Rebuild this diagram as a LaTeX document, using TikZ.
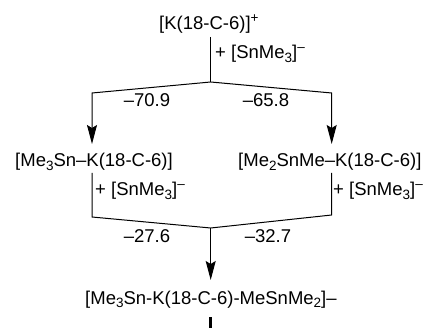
\documentclass[tikz,border=0pt]{standalone}
\usepackage{fontspec}
\setmainfont{Liberation Sans}
\usetikzlibrary{arrows.meta}
\newcommand{\myup}[1]{\raisebox{0.42em}{\fontsize{13.5}{14}\selectfont #1}}
\newcommand{\mydn}[1]{\raisebox{-0.2em}{\fontsize{13.5}{14}\selectfont #1}}
\tikzset{
  lbl/.style={inner sep=0pt, font=\fontsize{18.5}{22}\selectfont},
  conn/.style={line width=1pt},
  arr/.style={conn, -{Stealth[length=19pt,width=10pt,inset=3pt]}},
}
\begin{document}
\begin{tikzpicture}[x=1pt,y=-1pt]
\useasboundingbox (0,0) rectangle (425,328);
% nodes
\node[lbl, anchor=base west] (top) at (159,30) {[K(18-C-6)]\myup{+}};
\node[lbl, anchor=base west] (left) at (15,166.7) {[Me\mydn{3}Sn–K(18-C-6)]};
\node[lbl, anchor=base west] (right) at (238,166.7) {[Me\mydn{2}SnMe–K(18-C-6)]};
\node[lbl, anchor=base west] (bot) at (85,304) {[Me\mydn{3}Sn-K(18-C-6)-MeSnMe\mydn{2}]–};
% labels
\node[lbl, anchor=base west] (r1) at (215,59) {+ [SnMe\mydn{3}]\myup{–}};
\node[lbl, anchor=base west] (r2) at (95,196) {+ [SnMe\mydn{3}]\myup{–}};
\node[lbl, anchor=base west] (r3) at (333,196) {+ [SnMe\mydn{3}]\myup{–}};
\node[lbl, anchor=base] (e1) at (147,106.7) {–70.9};
\node[lbl, anchor=base] (e2) at (266,106.7) {–65.8};
\node[lbl, anchor=base] (e3) at (147,243) {–27.6};
\node[lbl, anchor=base] (e4) at (268,243) {–32.7};
% coordinates
\coordinate (s1) at (210.7,37);
\coordinate (j1) at (210.7,82);
\coordinate (cl) at (92,93);
\coordinate (cr) at (331.7,93);
\coordinate (tl) at (92,144);
\coordinate (tr) at (331.7,144);
\coordinate (bl1) at (92,173);
\coordinate (bl2) at (92,217);
\coordinate (br1) at (331.7,173);
\coordinate (br2) at (331.7,215);
\coordinate (j2) at (210.7,228);
\coordinate (tb) at (210.7,280);
\coordinate (z1) at (210.7,317);
\coordinate (z2) at (210.7,328);
% connectors
\draw[conn] (s1) -- (j1);
\draw[arr] (j1) -- (cl) -- (tl);
\draw[arr] (j1) -- (cr) -- (tr);
\draw[conn] (bl1) -- (bl2) -- (j2);
\draw[conn] (br1) -- (br2) -- (j2);
\draw[arr] (j2) -- (tb);
\draw[line width=2.5pt] (z1) -- (z2);
\end{tikzpicture}
\end{document}
